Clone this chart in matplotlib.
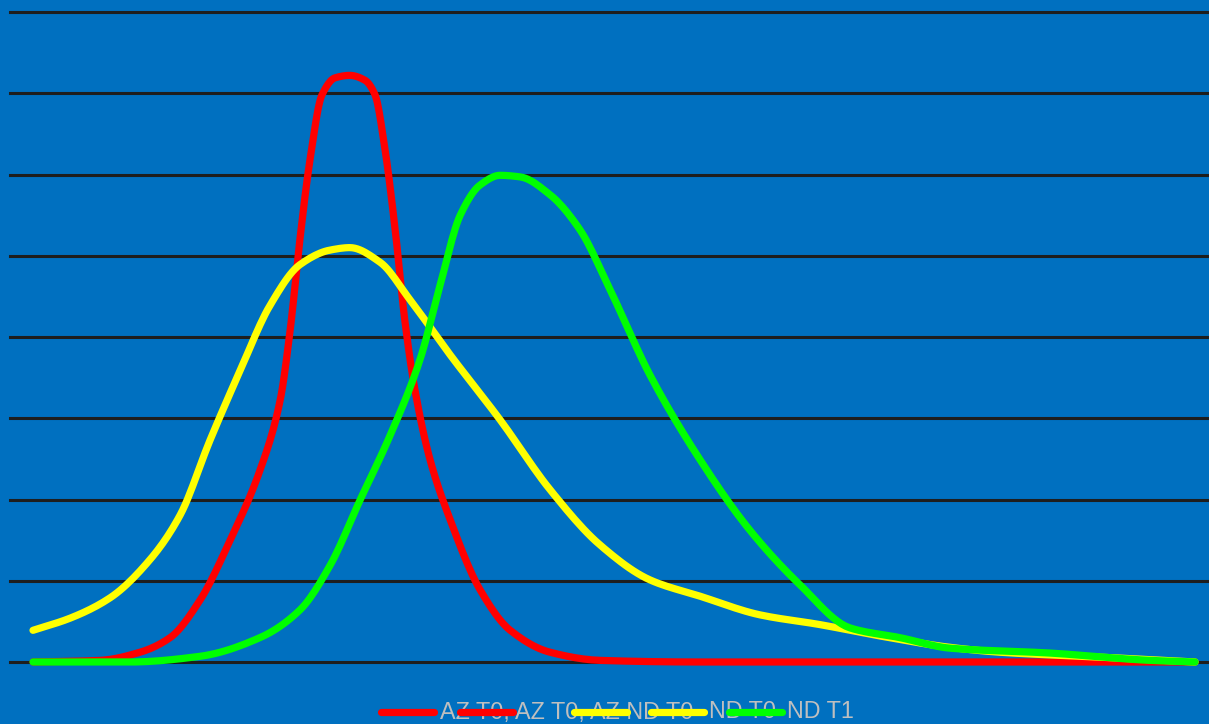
import numpy as np
import matplotlib
matplotlib.use("Agg")
import matplotlib.pyplot as plt
from matplotlib.lines import Line2D

plt.rcParams["font.family"] = ["Liberation Sans", "DejaVu Sans"]

# series (x in category units 0..30, y in grid units)
az_x = [0, 1.73, 2.76, 3.54, 4.31, 5.09, 5.86, 6.38, 6.64, 6.89, 7.15, 7.46, 7.80,
        8.18, 8.57, 8.83, 9.09, 9.35, 9.60, 9.86, 10.25, 10.77, 11.54, 12.32, 13.35,
        14.64, 17.22, 30]
az_y = [0, 0.02, 0.12, 0.30, 0.76, 1.50, 2.36, 3.22, 4.09, 5.20, 6.18, 6.98, 7.19,
        7.22, 7.16, 6.98, 6.30, 5.32, 4.20, 3.35, 2.49, 1.75, 0.89, 0.39, 0.12,
        0.02, 0, 0]

azb_x = [0, 0.96, 1.99, 3.02, 3.80, 4.57, 5.35, 6.12, 6.89, 7.67, 8.18, 8.96, 9.73,
         10.77, 12.06, 13.35, 14.64, 15.93, 17.22, 18.77, 20.32, 21.87, 23.68, 24.97,
         27.55, 30]
azb_y = [0.39, 0.54, 0.79, 1.26, 1.81, 2.73, 3.59, 4.39, 4.89, 5.07, 5.10, 4.92,
         4.46, 3.78, 2.98, 2.12, 1.44, 1.01, 0.81, 0.58, 0.46, 0.32, 0.18, 0.12,
         0.06, 0]

nd_x = [0, 2.50, 4.31, 5.86, 6.89, 7.67, 8.44, 9.22, 9.99, 10.51, 11.03, 11.54,
        12.06, 12.58, 13.35, 14.12, 14.90, 15.93, 17.22, 18.51, 19.80, 21.09, 22.38,
        23.68, 26.26, 28.84, 30]
nd_y = [0, 0, 0.07, 0.30, 0.64, 1.19, 1.99, 2.79, 3.72, 4.64, 5.50, 5.87, 5.99,
        5.97, 5.75, 5.32, 4.58, 3.53, 2.49, 1.62, 0.95, 0.42, 0.30, 0.17, 0.11,
        0.02, 0]

grid_vals = [0, 1, 2, 3, 4, 5, 6, 7, 8]

legend_colors = ["#FF0000", "#FF0000", "#FFFF00", "#FFFF00", "#00FF00"]
legend_labels = ["AZ T0, AZ T0, AZ ND T0", "", "", "ND T0", "ND T1"]


def smooth(x, y, n=12):
    # monotone cubic (Fritsch-Carlson) for drawing a smoothed line through the points
    x = np.asarray(x, float)
    y = np.asarray(y, float)
    h = np.diff(x)
    d = np.diff(y) / h
    m = np.zeros_like(y)
    m[0], m[-1] = d[0], d[-1]
    for i in range(1, len(y) - 1):
        if d[i - 1] * d[i] > 0:
            w1 = 2 * h[i] + h[i - 1]
            w2 = h[i] + 2 * h[i - 1]
            m[i] = (w1 + w2) / (w1 / d[i - 1] + w2 / d[i])
    xs, ys = [], []
    for i in range(len(h)):
        t = np.linspace(0, 1, n, endpoint=False)
        h00 = 2 * t**3 - 3 * t**2 + 1
        h10 = t**3 - 2 * t**2 + t
        h01 = -2 * t**3 + 3 * t**2
        h11 = t**3 - t**2
        xs.append(x[i] + t * h[i])
        ys.append(h00 * y[i] + h10 * h[i] * m[i] + h01 * y[i + 1] + h11 * h[i] * m[i + 1])
    xs.append([x[-1]])
    ys.append([y[-1]])
    return np.concatenate(xs), np.concatenate(ys)


bg = "#0070C0"
fig = plt.figure(figsize=(12.09, 7.24), dpi=100, facecolor=bg)
ax = fig.add_axes([10 / 1209, 1 - 662 / 724, 1 - 10 / 1209, 650 / 724])
ax.set_facecolor(bg)
ax.set_xlim(-0.594, 30.36)
ax.set_ylim(0, 8)
for s in ax.spines.values():
    s.set_visible(False)
ax.set_xticks([])
ax.set_yticks([])

for g in grid_vals:
    ax.axhline(g, color="#1e1e1e", lw=2.2, zorder=1, clip_on=False)

lw = 5.2
for xs, ys, c, z in [(azb_x, azb_y, "#FFFF00", 3), (az_x, az_y, "#FF0000", 2),
                     (nd_x, nd_y, "#00FF00", 4)]:
    sx, sy = smooth(xs, ys)
    ax.plot(sx, sy, color=c, lw=lw, solid_capstyle="round",
            solid_joinstyle="round", zorder=z, clip_on=False)

# legend entries sit on top of each other, as in the reference
handle_x = [378, 457, 571, 648, 726]
text_x = [440, 517, 632, 709, 787]
W, H = 1209, 724
ly = 1 - 712 / H
for hx, tx, c, lab in zip(handle_x, text_x, legend_colors, legend_labels):
    fig.add_artist(Line2D([(hx + 3) / W, (hx + 56) / W], [ly, ly], color=c, lw=lw,
                          solid_capstyle="round", transform=fig.transFigure, zorder=3))
    if lab:
        fig.text(tx / W, ly, lab, color="#BFBFBF", fontsize=16.8, va="center",
                 ha="left", zorder=2)

fig.savefig("out.png", dpi=100, facecolor=bg)
